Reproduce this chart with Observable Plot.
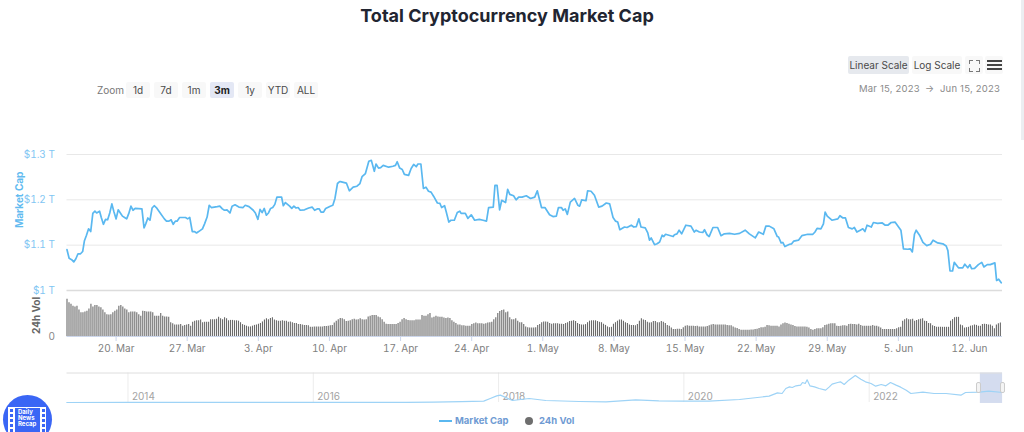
<!DOCTYPE html>
<html><head><meta charset="utf-8">
<script src="https://cdn.jsdelivr.net/npm/d3@7"></script>
<script src="https://cdn.jsdelivr.net/npm/@observablehq/plot@0.6"></script>
<style>
html,body{margin:0;padding:0;background:#fff;width:1024px;height:432px;overflow:hidden;font-family:Inter,sans-serif}
#page{position:relative;width:1024px;height:432px;overflow:hidden}
#page>*{position:absolute}
h1{margin:0;left:0;width:1014px;top:5px;text-align:center;font-size:18px;line-height:22px;font-weight:700;color:#222531}
.btn{height:16px;line-height:16px;text-align:center;font-size:10px;color:#4a4a4a;background:#f8f8f8;border-radius:2px;white-space:nowrap}
.lab{font-size:10px;color:#777;line-height:14px;white-space:nowrap}
.leg{font-size:9.5px;font-weight:700;color:#6f9bd3;line-height:14px;white-space:nowrap}
.plot{left:0}
</style></head><body><div id="page">
<h1>Total Cryptocurrency Market Cap</h1>
</div>
<script>
// Market cap: hours since 15 Mar 2023 00:00 UTC, and value in $ billions
const mcapHours = [
4,9,15,20,25,30,36,41,45,50,55,60,65,70,74,81,85,90,95,100,
105,110,115,120,125,130,135,140,145,150,155,160,165,181,186,190,195,200,205,210,
215,225,234,239,245,250,255,260,264,270,284,289,294,300,305,310,315,324,329,335,
340,345,359,365,371,376,382,389,394,401,410,420,425,434,444,449,455,460,465,470,
475,480,485,490,495,500,511,515,520,530,535,540,545,550,555,565,575,583,589,595,
600,604,610,615,626,632,637,643,648,650,
664,671,680,689,696,701,709,717,723,730,734,740,745,751,764,774,780,784,790,796,
801,811,817,823,829,833,840,846,852,858,864,870,879,885,889,896,900,906,911,919,
926,932,935,945,951,959,967,978,987,995,1000,1011,1015,1020,1026,1031,1040,1045,1050,1059,
1065,1071,1079,1089,1099,1109,1115,1125,1133,1144,1152,1160,1165,1172,1176,1181,1186,1193,1203,1211,
1215,1220,1230,1234,1242,1250,1260,1268,1278,1286,1294,1300,1305,1310,1321,1327,1337,1343,1349,1355,
1360,1370,1376,1380,1384,1392,1398,1404,1410,1414,1418,1436,
1439,1445,1450,1456,1466,1478,1486,1490,1498,1506,1510,1516,1521,1530,1541,1549,1557,1569,1581,1593,
1606,1616,1630,1638,1649,1655,1663,1674,1682,1685,1691,1695,1700,1711,1716,1721,1732,1740,1754,1766,
1771,1776,1785,1791,1795,1800,1811,1825,1830,1837,1843,1850,1859,1864,1870,1878,1884,1889,1894,1904,
1909,1919,1930,1937,1943,1951,1960,1974,1980,1990,1996,2001,2006,2010,2018,2026,2035,2044,2050,2061,
2073,2081,2085,2090,2096,2100,2110,2120,2125,2132,2137,2141,2148,2157,2165,2170,2178,2185,2196,2200,
2205,2211];
const mcapBillions = [
1090,1071,1068,1063,1070,1081,1081,1086,1109,1122,1136,1130,1170,1175,1171,1175,1161,1146,1157,1156,
1171,1191,1173,1158,1178,1171,1164,1161,1158,1170,1186,1177,1181,1180,1138,1147,1160,1155,1182,1187,
1183,1170,1158,1153,1153,1156,1146,1153,1153,1161,1161,1158,1161,1130,1130,1127,1130,1136,1147,1162,
1188,1183,1185,1186,1180,1177,1178,1171,1186,1189,1184,1183,1188,1185,1177,1171,1157,1179,1172,1181,
1166,1171,1181,1183,1190,1206,1206,1187,1194,1186,1181,1186,1182,1183,1177,1178,1182,1184,1177,1180,
1180,1173,1173,1181,1186,1188,1203,1236,1240,1240,
1237,1220,1228,1230,1236,1251,1258,1285,1287,1263,1279,1270,1271,1276,1272,1274,1276,1284,1270,1267,
1256,1254,1269,1278,1273,1279,1279,1225,1228,1219,1217,1208,1193,1192,1183,1187,1173,1151,1155,1155,
1172,1175,1170,1170,1159,1167,1155,1157,1155,1153,1183,1184,1232,1232,1178,1199,1194,1223,1212,1209,
1200,1206,1206,1209,1203,1206,1220,1183,1183,1167,1163,1164,1183,1183,1177,1180,1168,1195,1203,1188,
1186,1200,1198,1220,1219,1210,1184,1186,1193,1191,1161,1153,1151,1134,1140,1139,1144,1140,1141,1158,
1140,1138,1127,1111,1116,1101,1103,1107,1122,1119,1124,1119,
1123,1125,1133,1125,1144,1142,1129,1133,1129,1128,1134,1123,1119,1139,1139,1121,1125,1126,1124,1126,
1133,1125,1116,1129,1124,1142,1142,1136,1119,1118,1105,1106,1097,1102,1103,1109,1111,1121,1124,1124,
1129,1137,1136,1147,1173,1164,1155,1158,1165,1160,1160,1139,1136,1139,1129,1133,1136,1130,1144,1140,
1150,1148,1149,1144,1144,1150,1151,1133,1092,1091,1092,1085,1124,1133,1122,1106,1099,1102,1111,1105,
1103,1098,1088,1043,1043,1062,1050,1050,1058,1050,1057,1048,1049,1057,1062,1052,1057,1057,1061,1022,
1025,1017];
// 24h volume, $ billions, one bar per sample, left to right
const volume24h = [
97,88,84,79,77,79,69,62,62,64,66,72,84,77,81,81,77,75,69,62,57,56,57,62,66,69,79,81,77,72,69,62,64,64,64,62,57,53,66,65,64,64,64,62,53,53,53,60,53,51,51,50,36,33,30,30,30,31,27,29,30,31,27,37,40,41,41,43,36,37,37,37,44,44,44,45,50,46,44,49,46,41,42,42,41,41,40,36,31,29,27,25,25,27,29,30,32,34,38,43,46,44,47,49,43,41,40,40,41,40,40,37,38,36,34,34,31,31,30,29,29,28,24,24,25,25,25,25,25,26,26,27,28,29,35,40,44,47,46,44,39,40,41,44,45,43,44,46,44,43,44,51,53,55,55,55,51,
49,44,37,32,31,31,31,31,31,34,37,44,47,44,42,41,41,41,43,43,43,55,53,53,57,60,48,50,53,51,50,50,48,47,48,47,41,37,34,30,30,28,28,27,27,27,31,33,35,33,33,33,32,33,35,36,37,44,49,60,65,68,69,62,64,49,44,44,46,40,36,36,31,25,23,22,22,22,23,29,31,36,38,38,37,34,32,33,33,33,32,32,31,34,36,39,40,41,39,34,31,30,30,31,36,40,41,41,41,39,37,36,32,29,25,23,24,32,36,40,43,43,40,36,34,30,29,29,28,31,40,46,43,42,37,35,36,39,39,36,36,39,37,34,29,27,22,18,18,19,19,18,23,27,28,27,
27,27,26,27,25,25,25,25,26,28,30,31,30,30,30,30,30,30,29,28,28,25,22,21,18,16,16,16,16,16,17,17,18,19,21,23,23,24,29,28,27,27,27,27,25,30,33,35,34,32,30,29,26,25,25,25,25,25,24,22,18,16,18,20,20,20,23,29,30,32,33,33,33,27,26,27,28,28,27,31,32,31,31,30,32,29,27,27,27,27,27,29,27,27,25,22,18,18,18,18,18,18,18,20,23,24,40,44,46,44,44,45,40,42,44,45,46,40,39,34,33,28,26,24,24,24,24,24,24,24,40,44,49,50,50,30,28,22,23,24,27,28,30,29,27,27,31,32,31,30,30,27,20,30,33,35];
const weekTicks = ["2023-03-20","2023-03-27","2023-04-03","2023-04-10","2023-04-17","2023-04-24","2023-05-01","2023-05-08","2023-05-15","2023-05-22","2023-05-29","2023-06-05","2023-06-12"];
const capTicks = [1000,1100,1200,1300];
// Navigator: year (fractional) and total cap in $ billions
const navYears = [2013.34,2014,2015,2016,2017,2017.3,2017.6,2017.84,2017.91,2017.98,2018.02,2018.15,2018.33,2018.51,2018.87,2019.16,2019.48,2019.73,2019.99,2020.27,2020.6,2020.92,2021.01,2021.06,2021.10,2021.14,2021.17,2021.21,2021.26,2021.28,2021.31,2021.33,2021.36,2021.41,2021.46,2021.53,2021.57,2021.60,2021.66,2021.69,2021.73,2021.78,2021.85,2021.91,2021.96,2022.02,2022.07,2022.13,2022.18,2022.23,2022.29,2022.34,2022.40,2022.45,2022.58,2022.70,2022.83,2022.99,2023.04,2023.19,2023.29,2023.44];
const navBillions = [2,10,5,7,18,35,90,140,410,690,760,207,414,207,103,69,276,172,138,138,310,655,1000,931,1449,1621,1552,1725,1794,2070,1966,2346,1725,1621,1449,1276,1621,1897,2070,2139,1863,2311,2794,2415,2139,1966,1690,1863,1725,2070,1794,1587,1276,932,1070,932,932,759,1035,1070,1173,1035];
const navTicks = [2014,2016,2018,2020,2022];
const navRange = [2023.2,2023.44];
const zoomLabels = ["1d","7d","1m","3m","1y","YTD","ALL"];
const scaleLabels = ["Linear Scale","Log Scale"];

const t = h => new Date(Date.UTC(2023,2,15,0,0,0,Math.round(h*3600000)));
const xDomain = [t(4),t(2214)];
const font = "Inter, sans-serif";
const page = document.getElementById("page");
const W = 1024, ML = 66.5, MR = 22;
const common = {width:W,marginLeft:ML,marginRight:MR,style:{background:"transparent",fontFamily:font,overflow:"visible"}};
function place(svg,top){svg.classList.add("plot");svg.style.position="absolute";svg.style.left="0";svg.style.top=top+"px";page.appendChild(svg);}

// Market-cap panel: y=154..290 px
const capRows = mcapHours.map((h,i)=>({date:t(h),v:mcapBillions[i]}));
place(Plot.plot({...common,height:152,marginTop:14,marginBottom:2,
  x:{domain:xDomain,axis:null},
  y:{domain:[1000,1300]},
  marks:[
    Plot.ruleY(capTicks.slice(1),{stroke:"#e8e8e8",strokeWidth:1}),
    Plot.ruleY([1000],{stroke:"#dcdcdc",strokeWidth:1.5}),
    Plot.axisY(capTicks,{anchor:"left",tickSize:0,tickPadding:12,label:null,fill:"#82c6f3",fontSize:10,tickFormat:v=>`$${v/1000} T`}),
    Plot.text(["Market Cap"],{y:[1200],frameAnchor:"left",textAnchor:"middle",dx:-47,rotate:-90,fill:"#62bbf0",fontWeight:700,fontSize:10,fontFamily:font}),
    Plot.line(capRows,{x:"date",y:"v",stroke:"#5ab8f0",strokeWidth:1.7,curve:"linear"})
  ]}),140);

// Volume panel: y=290..336 px
const volStep = (2209-4)/(volume24h.length-1);
const volRows = volume24h.map((v,i)=>({date:t(4+i*volStep),v}));
place(Plot.plot({...common,height:74,marginTop:4,marginBottom:24,
  x:{domain:xDomain},
  y:{domain:[0,120]},
  marks:[
    Plot.ruleX(volRows,{x:"date",y1:0,y2:"v",stroke:"#6a6a6a",strokeWidth:1.1}),
    Plot.ruleY([0],{stroke:"#ccd6eb",strokeWidth:1}),
    Plot.axisX(weekTicks.map(d=>new Date(d+"T00:00Z")),{anchor:"bottom",tickSize:5,tickPadding:3,label:null,stroke:"#ccd6eb",fill:"#808080",fontSize:10,tickFormat:d3.utcFormat("%-d. %b")}),
    Plot.axisY([0],{anchor:"left",tickSize:0,tickPadding:12,label:null,fill:"#888",fontSize:10}),
    Plot.text(["24h Vol"],{y:[55],frameAnchor:"left",textAnchor:"middle",dx:-30,rotate:-90,fill:"#666",fontWeight:700,fontSize:10,fontFamily:font})
  ]}),286);

// Navigator: y=373..403 px
place(Plot.plot({...common,height:36,marginTop:4,marginBottom:3,
  x:{type:"linear",domain:[2013.342,2023.439],axis:null},
  y:{domain:[0,3000],axis:null},
  marks:[
    Plot.rect([navRange],{x1:d=>d[0],x2:d=>d[1],y1:-100,y2:3050,fill:"#d4dcef"}),
    Plot.ruleX(navTicks,{y1:0,y2:3050,stroke:"#ececec"}),
    Plot.ruleY([3050],{stroke:"#dedede",strokeWidth:1}),
    Plot.text(navTicks,{x:d=>d,y:d=>620,text:d=>String(d),dx:4,textAnchor:"start",fill:"#a3a3a3",fontSize:10,fontFamily:font}),
    Plot.line(navYears.map((y,i)=>({y,v:navBillions[i]})),{x:"y",y:"v",stroke:"#9ed3f6",strokeWidth:1.2})
  ]}),369);

// HTML chrome
function el(cls,txt,css){const d=document.createElement("div");d.className=cls;if(txt)d.textContent=txt;Object.assign(d.style,css);page.appendChild(d);return d;}
el("lab","Zoom",{left:"97px",top:"83px"});
zoomLabels.forEach((s,i)=>el("btn",s,{left:126+28*i+"px",top:"82px",width:"24px",
  ...(s==="3m"?{background:"#e4e8f5",fontWeight:"700",color:"#222"}:{})}));
scaleLabels.forEach((s,i)=>el("btn",s,{left:[848,912][i]+"px",top:"56px",height:"18px",lineHeight:"18px",width:[61,50][i]+"px",
  ...(i===0?{background:"#e6e9ee"}:{})}));
el("btn","",{left:"965px",top:"56px",width:"18px",height:"18px"});
el("btn","",{left:"985px",top:"56px",width:"18px",height:"18px"});
[[0,"top","left"],[0,"top","right"],[1,"bottom","left"],[1,"bottom","right"]].forEach(([r,v,h])=>{
  el("",null,{left:(h==="left"?969:976)+"px",top:(r?68:60)+"px",width:"3px",height:"3px",
    ["border-"+v]:"1.2px solid #777",["border-"+h]:"1.2px solid #777"});
});
[60,64,68].forEach(y=>el("",null,{left:"987px",top:y+"px",width:"15px",height:"2.4px",background:"#444"}));
const dateCss={top:"82px",letterSpacing:"0.2px",fontSize:"9.5px",color:"#8a8a8a"};
el("lab","Mar 15, 2023",{...dateCss,left:"859px"});
el("lab","→",{...dateCss,left:"925px"});
el("lab","Jun 15, 2023",{...dateCss,left:"940px"});
// navigator handles
[979,1002.5].forEach(x=>el("",null,{left:x-3+"px",top:"382px",width:"5px",height:"11px",background:"#f4f4f4",border:"1px solid #ccc",borderRadius:"2px",boxSizing:"border-box"}));
// legend
el("",null,{left:"439px",top:"420px",width:"13px",height:"1.6px",background:"#5ab8f0"});
el("leg","Market Cap",{left:"455px",top:"414px"});
el("",null,{left:"524.5px",top:"417px",width:"8px",height:"8px",borderRadius:"50%",background:"#6e6e6e"});
el("leg","24h Vol",{left:"539px",top:"414px"});
// logo
el("",null,{left:"3px",top:"395px",width:"49px",height:"49px",borderRadius:"50%",background:"#3a66f5"});
el("",null,{left:"8px",top:"407px",width:"38px",height:"25px",background:"#fff"});
el("",null,{left:"15px",top:"408px",width:"25px",height:"24px",background:"#3a66f5"});
[409,414,419,424,429].forEach(y=>[10,42].forEach(x=>el("",null,{left:x+"px",top:y+"px",width:"3px",height:"2.5px",background:"#3a66f5"})));
el("","Daily",{left:"18px",top:"409px",fontSize:"6px",fontWeight:"700",color:"#fff",lineHeight:"6px"});
el("","News",{left:"18px",top:"415px",fontSize:"6px",fontWeight:"700",color:"#fff",lineHeight:"6px"});
el("","Recap",{left:"18px",top:"421px",fontSize:"6px",fontWeight:"700",color:"#fff",lineHeight:"6px"});
// page scrollbar sliver
el("",null,{left:"1021px",top:"0",width:"3px",height:"140px",background:"#eceef1"});
</script></body></html>
